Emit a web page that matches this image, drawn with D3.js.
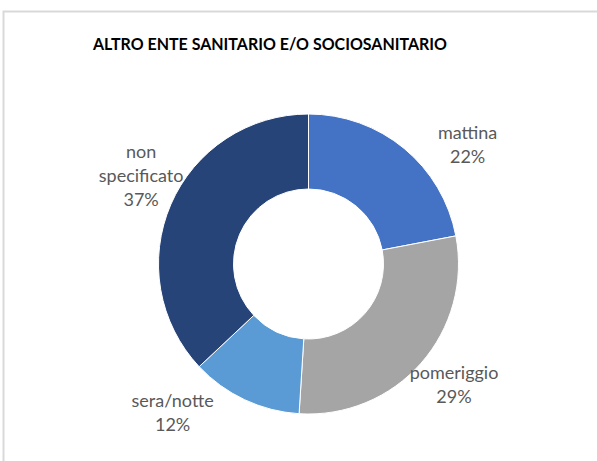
<!DOCTYPE html>
<html lang="en">
  <head>
    <meta charset="utf-8">
    <title>Altro ente sanitario</title>
    <style>
      body { margin: 0; background: #fff; }
      text { font-family: Lato, "Open Sans", sans-serif; }
    </style>
  </head>
  <body>
    <svg class="chart"></svg>

    <script src="https://d3js.org/d3.v7.min.js"></script>
    <script type="text/javascript">
      var categories = ['mattina', 'pomeriggio', 'sera/notte', 'non specificato'];
      var values = [22, 29, 12, 37];
      var colors = ['#4472C4', '#A5A5A5', '#5B9BD5', '#264478'];

      var w = 597;
      var h = 461;
      var cx = 308.5;
      var cy = 264;
      var outerR = 150;
      var innerR = 75;

      // nudges for the data labels (excel "best fit" puts them a bit off the bisector)
      var labelNudge = {
        'mattina': [38, 27],
        'pomeriggio': [3, -5],
        'sera/notte': [-55, -23],
        'non specificato': [7, -13]
      };

      var svg = d3.select('.chart')
                  .attr('width', w)
                  .attr('height', h);

      // chart frame
      svg.append('path')
         .attr('d', 'M3.5,' + h + 'V11.5H' + w)
         .attr('fill', 'none')
         .attr('stroke', '#d9d9d9')
         .attr('stroke-width', 2);

      svg.append('text')
         .attr('x', 270)
         .attr('y', 50)
         .attr('text-anchor', 'middle')
         .attr('font-size', 17.5)
         .attr('font-weight', 'bold')
         .attr('fill', '#000')
         .attr('textLength', 354)
         .attr('lengthAdjust', 'spacingAndGlyphs')
         .text('ALTRO ENTE SANITARIO E/O SOCIOSANITARIO');

      var data = categories.map(function(c, i) {
        return { name: c, value: values[i], color: colors[i] };
      });

      var pie = d3.pie()
                  .sort(null)
                  .value(function(d) { return d.value; });

      var arc = d3.arc()
                  .innerRadius(innerR)
                  .outerRadius(outerR);

      var labelArc = d3.arc()
                       .innerRadius(190)
                       .outerRadius(190);

      var g = svg.append('g')
                 .attr('transform', 'translate(' + cx + ',' + cy + ')');

      var arcs = pie(data);

      g.selectAll('path.slice')
       .data(arcs)
       .enter()
       .append('path')
       .attr('class', 'slice')
       .attr('d', arc)
       .attr('fill', function(d) { return d.data.color; })
       .attr('stroke', '#fff')
       .attr('stroke-width', 1);

      var total = d3.sum(values);

      var labels = g.selectAll('text.lbl')
                    .data(arcs)
                    .enter()
                    .append('text')
                    .attr('class', 'lbl')
                    .attr('text-anchor', 'middle')
                    .attr('font-size', 18)
                    .attr('fill', '#595959')
                    .attr('transform', function(d) {
                      var c = labelArc.centroid(d);
                      var n = labelNudge[d.data.name];
                      return 'translate(' + (c[0] + n[0]) + ',' + (c[1] + n[1]) + ')';
                    });

      labels.each(function(d) {
        var lines = d.data.name.split(' ');
        lines.push(Math.round(d.data.value / total * 100) + '%');
        var t = d3.select(this);
        var start = -(lines.length - 1) * 24 / 2;
        lines.forEach(function(line, i) {
          t.append('tspan')
           .attr('x', 0)
           .attr('y', start + i * 24)
           .attr('dy', '0.35em')
           .text(line);
        });
      });
    </script>
  </body>
</html>
